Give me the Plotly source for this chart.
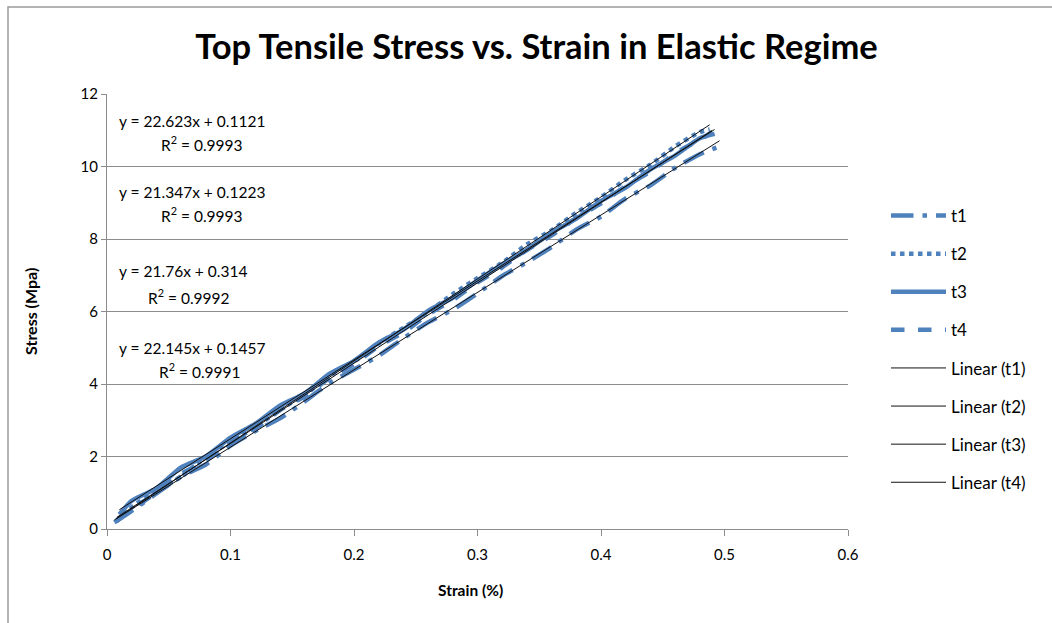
import plotly.graph_objects as go

# Measured strain (%) and stress (MPa) for the four top tensile tests
strain_t1 = [0.006, 0.02, 0.04, 0.06, 0.08, 0.10, 0.12, 0.14, 0.16, 0.18, 0.20, 0.22, 0.24,
             0.26, 0.28, 0.30, 0.32, 0.34, 0.36, 0.38, 0.40, 0.42, 0.44, 0.46, 0.48, 0.496]
stress_t1 = [0.18, 0.50, 0.98, 1.45, 1.78, 2.30, 2.70, 3.05, 3.52, 4.02, 4.40, 4.78, 5.26,
             5.70, 6.05, 6.50, 6.98, 7.36, 7.78, 8.26, 8.62, 9.12, 9.48, 9.96, 10.34, 10.55]

strain_t2 = [0.008, 0.02, 0.04, 0.06, 0.08, 0.10, 0.12, 0.14, 0.16, 0.18, 0.20, 0.22, 0.24,
             0.26, 0.28, 0.30, 0.32, 0.34, 0.36, 0.38, 0.40, 0.42, 0.44, 0.46, 0.48, 0.488]
stress_t2 = [0.22, 0.60, 1.05, 1.44, 1.98, 2.42, 2.80, 3.30, 3.70, 4.22, 4.62, 5.12, 5.55,
             5.98, 6.48, 6.92, 7.34, 7.85, 8.24, 8.72, 9.15, 9.64, 10.05, 10.55, 10.95, 11.02]

strain_t3 = [0.01, 0.02, 0.04, 0.06, 0.08, 0.10, 0.12, 0.14, 0.16, 0.18, 0.20, 0.22, 0.24,
             0.26, 0.28, 0.30, 0.32, 0.34, 0.36, 0.38, 0.40, 0.42, 0.44, 0.46, 0.48, 0.492]
stress_t3 = [0.40, 0.78, 1.12, 1.70, 2.00, 2.52, 2.90, 3.40, 3.74, 4.28, 4.64, 5.14, 5.50,
             6.02, 6.38, 6.86, 7.30, 7.70, 8.18, 8.56, 9.05, 9.42, 9.92, 10.30, 10.78, 10.90]

strain_t4 = [0.008, 0.02, 0.04, 0.06, 0.08, 0.10, 0.12, 0.14, 0.16, 0.18, 0.20, 0.22, 0.24,
             0.26, 0.28, 0.30, 0.32, 0.34, 0.36, 0.38, 0.40, 0.42, 0.44, 0.46, 0.48, 0.49]
stress_t4 = [0.25, 0.55, 1.00, 1.52, 1.88, 2.40, 2.76, 3.28, 3.66, 4.16, 4.55, 5.05, 5.42,
             5.92, 6.32, 6.80, 7.22, 7.70, 8.10, 8.58, 8.98, 9.46, 9.86, 10.36, 10.74, 10.95]

series_names = ["t1", "t2", "t3", "t4"]
series_dash = ["longdashdot", "dot", "solid", "dash"]

# Linear fits (slope, intercept, R^2), in label order
fit_labels = [("22.623", "0.1121", "0.9993"),
              ("21.347", "0.1223", "0.9993"),
              ("21.76", "0.314", "0.9992"),
              ("22.145", "0.1457", "0.9991")]
# which fit belongs to which test
fit_of_series = [1, 0, 2, 3]

x_ticks = [0, 0.1, 0.2, 0.3, 0.4, 0.5, 0.6]
y_ticks = [0, 2, 4, 6, 8, 10, 12]

strains = [strain_t1, strain_t2, strain_t3, strain_t4]
stresses = [stress_t1, stress_t2, stress_t3, stress_t4]

BLUE = "#4F81BD"
GRID = "#8c8c8c"
FONT = "Lato, 'Open Sans', sans-serif"

# plot-area geometry in pixels
W, H = 1052, 623
L, R, T, B = 107, 848, 94, 529


def px_x(px):
    return (px - L) / (R - L)


def px_y(py):
    return (B - py) / (B - T)


fig = go.Figure()

for i, name in enumerate(series_names):
    fig.add_trace(go.Scatter(
        x=strains[i], y=stresses[i], mode="lines", name=name,
        legendgroup=name,
        line=dict(color=BLUE, width=4.5, dash=series_dash[i], shape="spline", smoothing=0.6),
    ))

for i, name in enumerate(series_names):
    slope, icpt, _ = fit_labels[fit_of_series[i]]
    m, c = float(slope), float(icpt)
    xs = [min(strains[i]), max(strains[i])]
    fig.add_trace(go.Scatter(
        x=xs, y=[m * v + c for v in xs], mode="lines",
        name=f"Linear ({name})", legendgroup=f"lin{name}",
        line=dict(color="#111111", width=1),
    ))

# trendline equation labels
eq_pos = [(117, 121, 159, 143), (117, 192, 159, 214), (117, 271, 146, 296), (117, 348, 157, 370)]
ann = []
for (slope, icpt, r2), (x1, y1, x2, y2) in zip(fit_labels, eq_pos):
    ann.append(dict(text=f"y = {slope}x + {icpt}", x=px_x(x1), y=px_y(y1), xref="paper", yref="paper",
                    xanchor="left", yanchor="middle", showarrow=False,
                    font=dict(family=FONT, size=15.5, color="#000")))
    ann.append(dict(text=f"R<sup>2</sup> = {r2}", x=px_x(x2), y=px_y(y2), xref="paper", yref="paper",
                    xanchor="left", yanchor="middle", showarrow=False,
                    font=dict(family=FONT, size=15.5, color="#000")))

ann.append(dict(text="<b>Strain (%)</b>", x=px_x(470), y=px_y(590), xref="paper", yref="paper",
                showarrow=False, xanchor="center", yanchor="middle",
                font=dict(family=FONT, size=15.5, color="#000")))
ann.append(dict(text="<b>Stress (Mpa)</b>", x=px_x(30), y=px_y(312), xref="paper", yref="paper",
                showarrow=False, textangle=-90, xanchor="center", yanchor="middle",
                font=dict(family=FONT, size=16, color="#000")))

fig.update_layout(
    width=W, height=H,
    margin=dict(l=L, r=W - R, t=T, b=H - B),
    paper_bgcolor="white", plot_bgcolor="white",
    title=dict(text="<b>Top Tensile Stress vs. Strain in Elastic Regime</b>",
               x=0.51, xanchor="center", y=1 - 47 / H, yanchor="middle",
               font=dict(family=FONT, size=34.5, color="#000")),
    xaxis=dict(range=[0, 0.6], tickvals=x_ticks, ticktext=[f"{v:g}" for v in x_ticks],
               showgrid=False, zeroline=False, showline=True, linecolor=GRID, linewidth=1,
               ticks="outside", ticklen=6, tickcolor=GRID, ticklabelstandoff=6,
               tickfont=dict(family=FONT, size=15, color="#000")),
    yaxis=dict(range=[0, 12], tickvals=y_ticks, showgrid=True, gridcolor=GRID, gridwidth=1,
               zeroline=False, showline=True, linecolor=GRID, linewidth=1,
               ticks="outside", ticklen=5, tickcolor=GRID,
               tickfont=dict(family=FONT, size=15, color="#000")),
    legend=dict(x=px_x(886), y=px_y(198), xanchor="left", yanchor="top",
                font=dict(family=FONT, size=17, color="#000"),
                itemwidth=55,
                tracegroupgap=13, bgcolor="rgba(0,0,0,0)"),
    annotations=ann,
    shapes=[dict(type="rect", xref="paper", yref="paper",
                 x0=px_x(8), y0=px_y(640), x1=px_x(1070), y1=px_y(7),
                 line=dict(color="#9a9a9a", width=1.5), layer="below")],
    showlegend=True,
)

fig.write_html("out.html")
